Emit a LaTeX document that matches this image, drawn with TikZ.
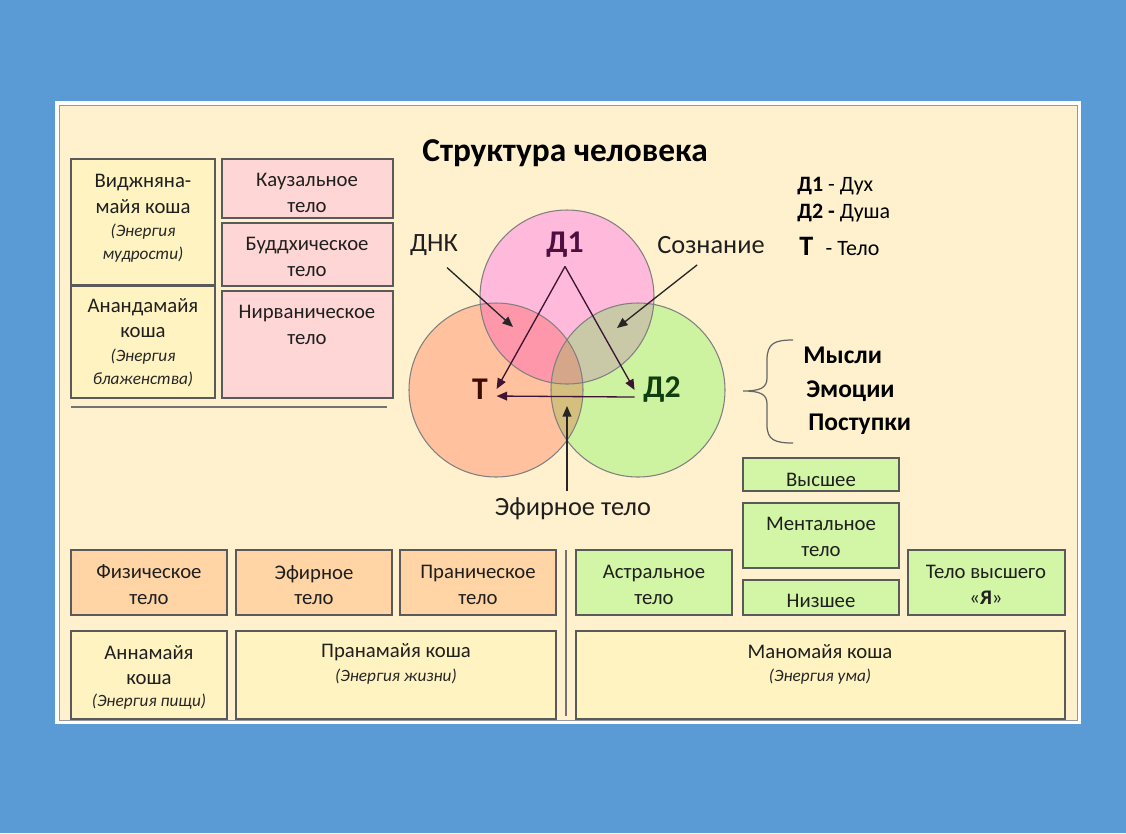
\documentclass[tikz,border=0pt]{standalone}
\usepackage{fontspec}
\setmainfont{Carlito}
\usetikzlibrary{arrows.meta,fit}

\definecolor{bgblue}{HTML}{5B9BD5}
\definecolor{panelbg}{HTML}{FFF1CE}
\definecolor{boxline}{HTML}{5A5A5A}
\definecolor{yelbox}{HTML}{FFF3C2}
\definecolor{pinkbox}{HTML}{FFD6D6}
\definecolor{orbox}{HTML}{FFD5A6}
\definecolor{grbox}{HTML}{D3F5A6}
\definecolor{circD}{HTML}{FFB9DA}
\definecolor{circT}{HTML}{FFC19E}
\definecolor{circS}{HTML}{CDF2A0}
\definecolor{ovTD}{HTML}{FF97AA}
\definecolor{ovDS}{HTML}{C9C8A7}
\definecolor{ovTS}{HTML}{D5BF7E}
\definecolor{ovAll}{HTML}{D5A689}
\definecolor{txtD}{HTML}{4D0F3F}
\definecolor{txtT}{HTML}{3A0D00}
\definecolor{txtS}{HTML}{0F3F0F}
\definecolor{arrD}{HTML}{3C1434}

\begin{document}
\begin{tikzpicture}[x=0.02cm,y=-0.02cm]
  % Parameters
  \def\rad{87}

  \tikzset{
    box/.style={draw=boxline, line width=0.8pt, inner sep=0pt},
    txt/.style={font=\fontsize{11.8}{14.7}\selectfont, align=center, inner sep=0pt, text=black!88},
    note/.style={font=\fontsize{9.8}{13}\selectfont\itshape, align=center, inner sep=0pt, text=black!85},
    lbl/.style={font=\fontsize{15}{18}\selectfont, inner sep=0pt, text=black!88},
    lett/.style={font=\bfseries\fontsize{18}{20}\selectfont, inner sep=0pt, outer sep=5pt},
    big/.style={font=\bfseries\fontsize{14.5}{17}\selectfont, inner sep=0pt, anchor=west},
    arr/.style={-{Triangle[length=6pt,width=5pt]}, line width=0.75pt, black!85},
    circ/.style={draw=black!50, line width=0.6pt},
  }

  % Background and panel
  \fill[bgblue] (0,0) rectangle (1126,833);
  \draw[fill=panelbg, draw=white, line width=2pt] (57,103) rectangle (1079,722);
  \draw[black!40, line width=0.5pt] (59,105) rectangle (1077,720);

  % Title
  \node[font=\bfseries\fontsize{19}{22}\selectfont, inner sep=0pt] (title) at (565,153) {Структура человека};

  % Upper left koshas
  \node[box, fill=yelbox, fit={(71,159) (215,285)}] (vij) {};
  \node[txt] (vij-t) at (143,194) {Виджняна-\\майя коша};
  \node[note] (vij-n) at (143,243) {(Энергия\\мудрости)};
  \node[box, fill=yelbox, fit={(71,286) (215,398)}] (anand) {};
  \node[txt] (anand-t) at (143,318) {Анандамайя\\коша};
  \node[note] (anand-n) at (143,368) {(Энергия\\блаженства)};

  % Upper left bodies
  \node[box, fill=pinkbox, fit={(222,159) (393,218)}] (kauz) {};
  \node[txt] (kauz-t) at (307,193) {Каузальное\\тело};
  \node[box, fill=pinkbox, fit={(222,223) (393,286)}] (budd) {};
  \node[txt] (budd-t) at (307,257) {Буддхическое\\тело};
  \node[box, fill=pinkbox, fit={(222,291) (393,398)}] (nirv) {};
  \node[txt] (nirv-t) at (307,325) {Нирваническое\\тело};
  \draw[black!55, line width=0.8pt] (71,407) -- (387,407);

  % Circles
  \coordinate (d1c) at (567,297);
  \coordinate (tc) at (496,390);
  \coordinate (d2c) at (638,390);
  \fill[circD] (d1c) circle (\rad);
  \fill[circT] (tc) circle (\rad);
  \fill[circS] (d2c) circle (\rad);
  \begin{scope}
    \clip (d1c) circle (\rad);
    \fill[ovTD] (tc) circle (\rad);
    \fill[ovDS] (d2c) circle (\rad);
  \end{scope}
  \begin{scope}
    \clip (tc) circle (\rad);
    \fill[ovTS] (d2c) circle (\rad);
  \end{scope}
  \begin{scope}
    \clip (d1c) circle (\rad);
    \clip (tc) circle (\rad);
    \fill[ovAll] (d2c) circle (\rad);
  \end{scope}
  \draw[circ] (d1c) circle (\rad);
  \draw[circ] (tc) circle (\rad);
  \draw[circ] (d2c) circle (\rad);

  % Letters in the circles
  \node[lett, text=txtD] (d1) at (565,245) {Д1};
  \node[lett, text=txtT] (t) at (480,389) {Т};
  \node[lett, text=txtS] (d2) at (662,390) {Д2};

  % Arrows between letters
  \draw[arr, arrD] (d1.south) -- (t.east);
  \draw[arr, arrD] (d1.south) -- (d2.west);
  \draw[arr, arrD] ([yshift=-4pt]d2.west) -- ([yshift=-4pt]t.east);

  % Pointer labels
  \node[lbl] (dnk) at (434,245) {ДНК};
  \node[lbl] (soz) at (711,245) {Сознание};
  \node[lbl] (eth) at (573,509) {Эфирное тело};
  \coordinate (dnkpt) at (513,327);
  \coordinate (sozpt) at (617,328);
  \coordinate (ethpt) at (567,406);
  \draw[arr, shorten <=10pt] (dnk.south) -- (dnkpt);
  \draw[arr, shorten <=10pt] (soz.south) -- (sozpt);
  \draw[arr, shorten <=4pt] (eth.north -| ethpt) -- (ethpt);

  % Legend
  \node[font=\fontsize{12.5}{15}\selectfont, inner sep=0pt, anchor=west] (leg1) at (797,186) {\textbf{Д1} - Дух};
  \node[font=\fontsize{12.5}{15}\selectfont, inner sep=0pt, anchor=west] (leg2) at (797,213) {\textbf{Д2 -} Душа};
  \node[font=\fontsize{12.5}{15}\selectfont, inner sep=0pt, anchor=west] (leg3) at (799,246) {{\bfseries\fontsize{16}{18}\selectfont Т}\hspace{7pt}- Тело};

  % Brace and manifestations
  \draw[black!60, line width=0.7pt] (793,340) .. controls (775,340) and (767,343) .. (767,360)
    -- (767,378) .. controls (767,388) and (760,391) .. (743,391)
    .. controls (760,391) and (767,394) .. (767,404)
    -- (767,425) .. controls (767,440) and (775,443) .. (793,443);
  \node[big] (mysli) at (803,355) {Мысли};
  \node[big] (emoc) at (806,391) {Эмоции};
  \node[big] (post) at (808,424) {Поступки};

  % Lower left bodies
  \foreach \n/\xa/\xb/\t in {phys/71/227/Физическое, ether/236/392/Эфирное, pran/400/556/Праническое} {
    \node[box, fill=orbox, fit={(\xa,550) (\xb,615)}] (\n) {};
    \node[txt] (\n-t) at ({(\xa+\xb)/2},585) {\t\\тело};
  }
  \node[box, fill=yelbox, fit={(71,631) (227,719)}] (anna) {};
  \node[txt] (anna-t) at (149,665) {Аннамайя\\коша};
  \node[note] (anna-n) at (149,702) {(Энергия пищи)};
  \node[box, fill=yelbox, fit={(236,631) (556,719)}] (prana) {};
  \node[txt] (prana-t) at (396,652) {Пранамайя коша};
  \node[note] (prana-n) at (396,677) {(Энергия жизни)};
  \draw[black!55, line width=0.8pt] (566,550) -- (566,716);

  % Lower right bodies
  \node[box, fill=grbox, fit={(576,550) (732,615)}] (astr) {};
  \node[txt] (astr-t) at (654,585) {Астральное\\тело};
  \node[box, fill=grbox, fit={(743,458) (899,491)}] (vyssh) {};
  \begin{scope}
    \clip (743,458) rectangle (899,486);
    \node[txt] (vyssh-t) at (821,480) {Высшее};
  \end{scope}
  \node[box, fill=grbox, fit={(743,503) (899,568)}] (ment) {};
  \node[txt] (ment-t) at (821,537) {Ментальное\\тело};
  \node[box, fill=grbox, fit={(743,580) (899,615)}] (nizsh) {};
  \node[txt] (nizsh-t) at (821,601) {Низшее};
  \node[box, fill=grbox, fit={(908,550) (1065,615)}] (ya) {};
  \node[txt] (ya-t) at (986,585) {Тело высшего\\«\textbf{Я}»};
  \node[box, fill=yelbox, fit={(576,631) (1065,719)}] (mano) {};
  \node[txt] (mano-t) at (820,652) {Маномайя коша};
  \node[note] (mano-n) at (820,677) {(Энергия ума)};
\end{tikzpicture}
\end{document}
